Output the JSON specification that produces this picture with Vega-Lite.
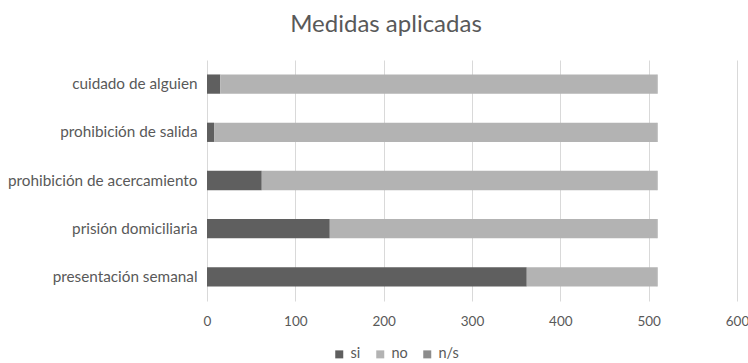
{
  "$schema": "https://vega.github.io/schema/vega-lite/v6.json",
  "width": 530,
  "height": 241,
  "autosize": {"type": "none"},
  "padding": {"left": 207, "top": 60, "right": 11, "bottom": 62},
  "background": "white",
  "config": {
    "font": "Lato",
    "view": {"stroke": null}
  },
  "title": {
    "text": "Medidas aplicadas",
    "fontSize": 24,
    "fontWeight": "normal",
    "color": "#595959",
    "font": "Lato",
    "anchor": "middle",
    "dx": -86,
    "offset": 23
  },
  "data": {
    "values": [
      {"medida": "cuidado de alguien", "respuesta": "si", "orden": 1, "n": 15},
      {"medida": "cuidado de alguien", "respuesta": "no", "orden": 2, "n": 494},
      {"medida": "cuidado de alguien", "respuesta": "n/s", "orden": 3, "n": 1},
      {"medida": "prohibición de salida", "respuesta": "si", "orden": 1, "n": 8},
      {"medida": "prohibición de salida", "respuesta": "no", "orden": 2, "n": 501},
      {"medida": "prohibición de salida", "respuesta": "n/s", "orden": 3, "n": 1},
      {"medida": "prohibición de acercamiento", "respuesta": "si", "orden": 1, "n": 62},
      {"medida": "prohibición de acercamiento", "respuesta": "no", "orden": 2, "n": 447},
      {"medida": "prohibición de acercamiento", "respuesta": "n/s", "orden": 3, "n": 1},
      {"medida": "prisión domiciliaria", "respuesta": "si", "orden": 1, "n": 139},
      {"medida": "prisión domiciliaria", "respuesta": "no", "orden": 2, "n": 370},
      {"medida": "prisión domiciliaria", "respuesta": "n/s", "orden": 3, "n": 1},
      {"medida": "presentación semanal", "respuesta": "si", "orden": 1, "n": 362},
      {"medida": "presentación semanal", "respuesta": "no", "orden": 2, "n": 147},
      {"medida": "presentación semanal", "respuesta": "n/s", "orden": 3, "n": 1}
    ]
  },
  "mark": {"type": "bar"},
  "encoding": {
    "y": {
      "field": "medida",
      "type": "nominal",
      "sort": ["cuidado de alguien", "prohibición de salida", "prohibición de acercamiento", "prisión domiciliaria", "presentación semanal"],
      "scale": {"paddingInner": 0.6, "paddingOuter": 0.3},
      "axis": {
        "title": null,
        "domain": false,
        "ticks": false,
        "labelPadding": 10,
        "labelFontSize": 15.3,
        "labelLimit": 205,
        "labelColor": "#595959",
        "labelFont": "Lato"
      }
    },
    "x": {
      "field": "n",
      "type": "quantitative",
      "stack": "zero",
      "scale": {"domain": [0, 600], "nice": false},
      "axis": {
        "title": null,
        "values": [0, 100, 200, 300, 400, 500, 600],
        "domain": false,
        "ticks": false,
        "grid": true,
        "gridColor": "#d9d9d9",
        "gridWidth": 1,
        "labelPadding": 13,
        "labelFontSize": 13.5,
        "labelColor": "#595959",
        "labelFont": "Lato",
        "labelFlush": false
      }
    },
    "color": {
      "field": "respuesta",
      "type": "nominal",
      "scale": {"domain": ["si", "no", "n/s"], "range": ["#5f5f5f", "#b3b3b3", "#8c8c8c"]},
      "legend": {
        "title": null,
        "orient": "none",
        "legendX": 125,
        "legendY": 287,
        "direction": "horizontal",
        "symbolType": "square",
        "symbolSize": 64,
        "symbolStrokeWidth": 0,
        "labelFontSize": 14.5,
        "labelColor": "#595959",
        "labelFont": "Lato",
        "labelOffset": 4,
        "columnPadding": 12
      }
    },
    "order": {"field": "orden", "type": "quantitative"}
  }
}
